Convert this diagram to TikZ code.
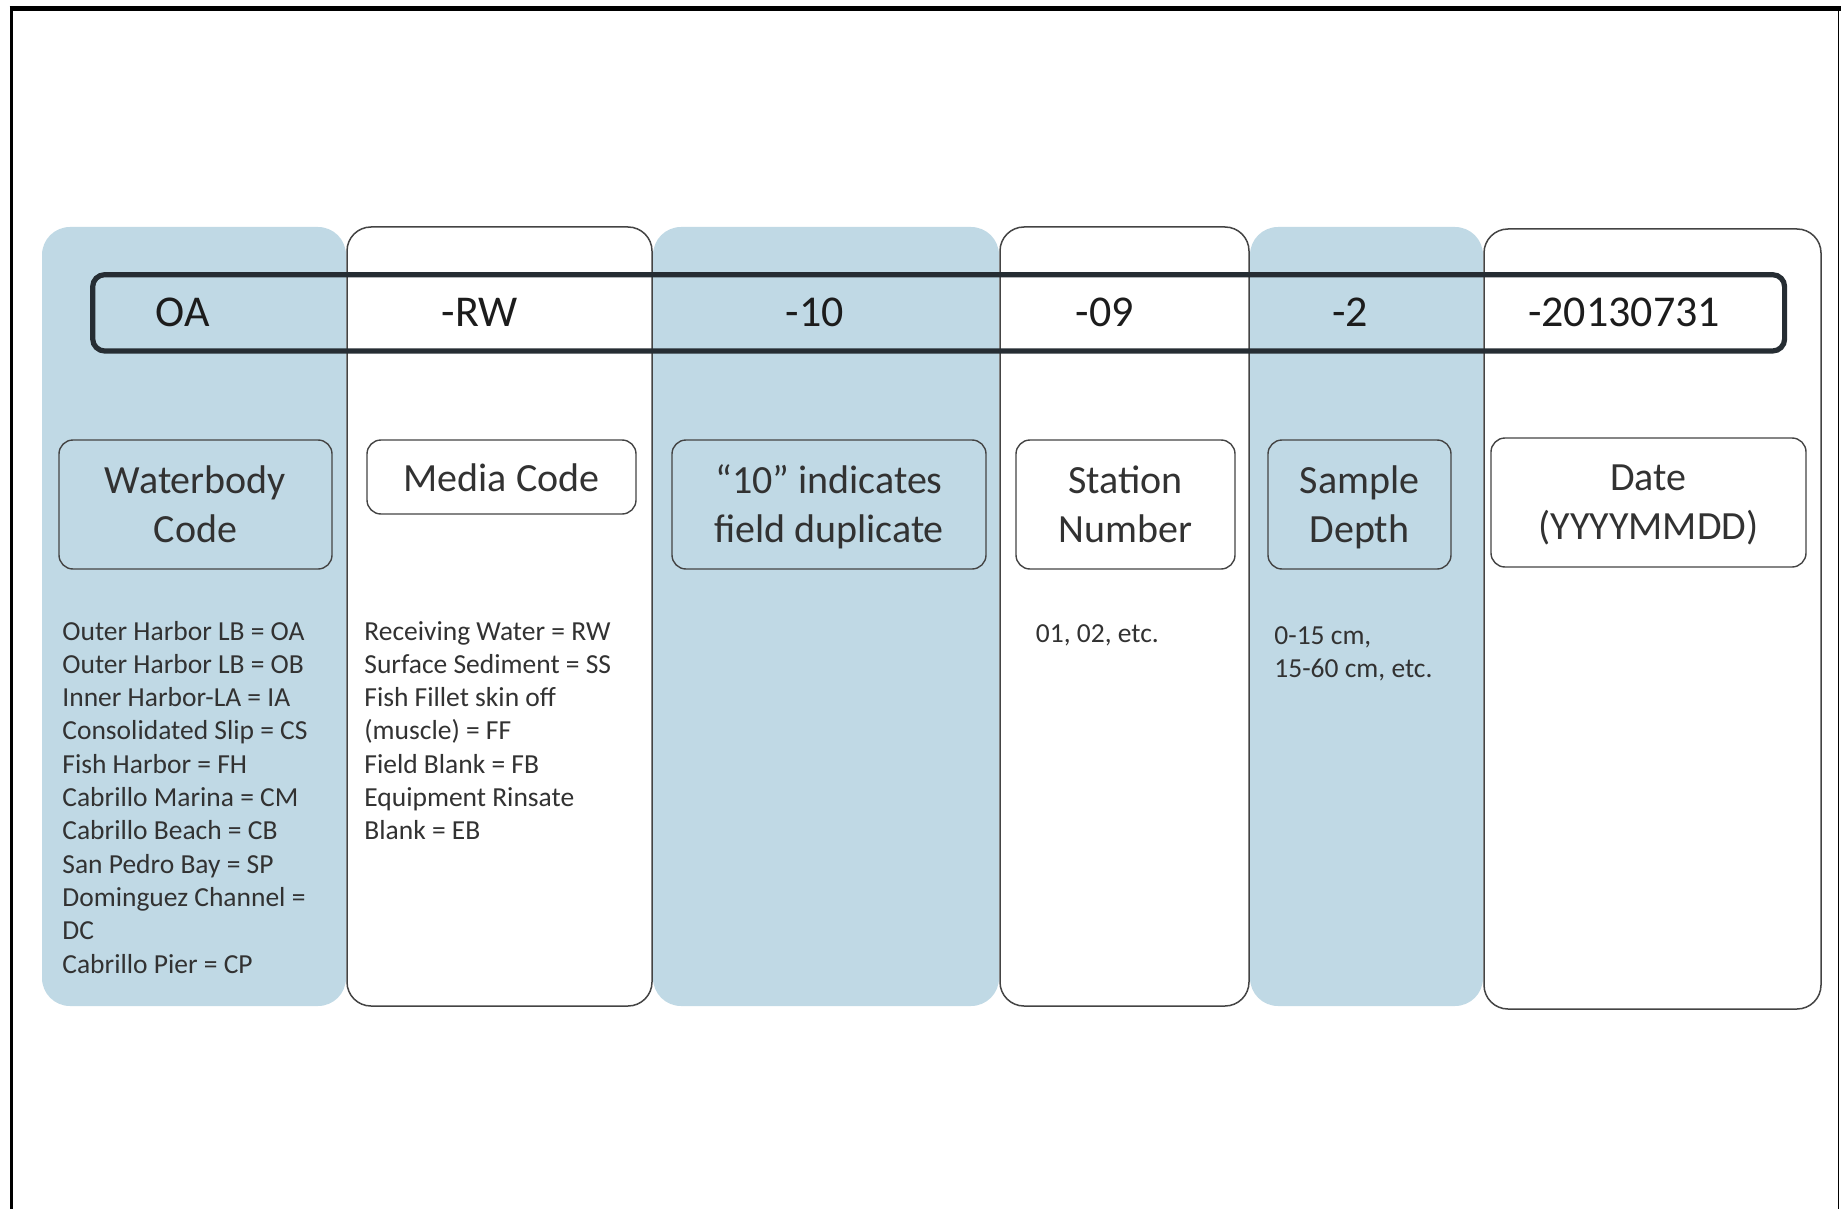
\documentclass[tikz,border=0pt]{standalone}
\usepackage{fontspec}
\setmainfont{Carlito}
\usetikzlibrary{fit}
\definecolor{colblue}{RGB}{192,217,229}
\definecolor{barline}{RGB}{38,45,51}
\definecolor{boxline}{RGB}{68,68,68}
\definecolor{txt}{RGB}{50,50,50}
\definecolor{codetxt}{RGB}{28,28,28}
\tikzset{
  bluecol/.style={fit={#1}, inner sep=0pt, fill=colblue, draw=none, rounded corners=14pt},
  whitecol/.style={fit={#1}, inner sep=0pt, fill=white, draw=boxline, line width=0.75pt, rounded corners=12pt},
  codebar/.style={fit={#1}, inner sep=0pt, draw=barline, line width=2.6pt, rounded corners=6pt},
  lbox/.style={fit={#1}, inner sep=0pt, draw=boxline, line width=0.7pt, rounded corners=7pt},
  codetext/.style={inner sep=0pt, text=codetxt, font=\fontsize{22pt}{26pt}\selectfont},
  ltext/.style={inner sep=0pt, align=center, text=txt, font=\fontsize{20pt}{24.5pt}\selectfont},
  desc/.style={inner sep=0pt, anchor=base west, text=txt, font=\fontsize{13.75pt}{16.65pt}\selectfont},
}
\begin{document}
\begin{tikzpicture}[x=0.5pt,y=-0.5pt]
\useasboundingbox (0,0) rectangle (1841,1209);
\fill[white] (0,0) rectangle (1841,1209);
% outer frame
\draw[line width=2.2pt] (9.5,8.5) -- (1841,8.5);
\draw[line width=1.5pt] (11,8.5) -- (11,1209);
\draw[line width=0.7pt] (1838.5,8.5) -- (1838.5,1209);
% columns
\node[bluecol={(42,227) (346,1006)}] (c1) {};
\node[whitecol={(347,227) (652,1006)}] (c2) {};
\node[bluecol={(653,227) (999,1006)}] (c3) {};
\node[whitecol={(1000,227) (1249,1006)}] (c4) {};
\node[bluecol={(1250,227) (1483,1006)}] (c5) {};
\node[whitecol={(1484,229) (1821,1009)}] (c6) {};
% code bar
\node[codebar={(92.7,274.7) (1784.6,351)}] (bar) {};
\node[codetext] (k1) at (183,312.3) {OA};
\node[codetext] (k2) at (480,312.3) {-RW};
\node[codetext] (k3) at (815,312.3) {-10};
\node[codetext] (k4) at (1105,312.3) {-09};
\node[codetext] (k5) at (1350,312.3) {-2};
\node[codetext] (k6) at (1624,312.3) {-20130731};
% label boxes
\node[lbox={(59,440) (332,569)}, fill=colblue] (b1) {};
\node[lbox={(367,440) (636,514)}, fill=white] (b2) {};
\node[lbox={(672,440) (986,569)}, fill=colblue] (b3) {};
\node[lbox={(1016,440) (1235,569)}, fill=white] (b4) {};
\node[lbox={(1268,440) (1451,569)}, fill=colblue] (b5) {};
\node[lbox={(1491,438) (1806,567)}, fill=white] (b6) {};
\node[ltext] (t1) at (b1.center) {Waterbody\\Code};
\node[ltext, yshift=-0.6pt] (t2) at (b2.center) {Media Code};
\node[ltext, yshift=-1.1pt] (t3) at (b3.center) {“10” indicates\\field duplicate};
\node[ltext] (t4) at (b4.center) {Station\\Number};
\node[ltext, yshift=-1.4pt] (t5) at (b5.center) {Sample\\Depth};
\node[ltext, yshift=-1.1pt] (t6) at (b6.center) {Date\\(YYYYMMDD)};
% descriptions
\foreach \t [count=\i] in {Outer Harbor LB = OA, Outer Harbor LB = OB, Inner Harbor-LA = IA,
  Consolidated Slip = CS, Fish Harbor = FH, Cabrillo Marina = CM, Cabrillo Beach = CB,
  San Pedro Bay = SP, Dominguez Channel =, DC, Cabrillo Pier = CP}
  \node[desc] (wb\i) at (62,{640+33.3*(\i-1)}) {\t};
\foreach \t [count=\i] in {Receiving Water = RW, Surface Sediment = SS, Fish Fillet skin off,
  (muscle) = FF, Field Blank = FB, Equipment Rinsate, Blank = EB}
  \node[desc] (md\i) at (364,{640+33.3*(\i-1)}) {\t};
\node[desc] (st1) at (1035.5,642) {01, 02, etc.};
\node[desc] (sd1) at (1274,644.5) {0-15 cm,};
\node[desc] (sd2) at (1274,677.8) {15-60 cm, etc.};
\end{tikzpicture}
\end{document}
